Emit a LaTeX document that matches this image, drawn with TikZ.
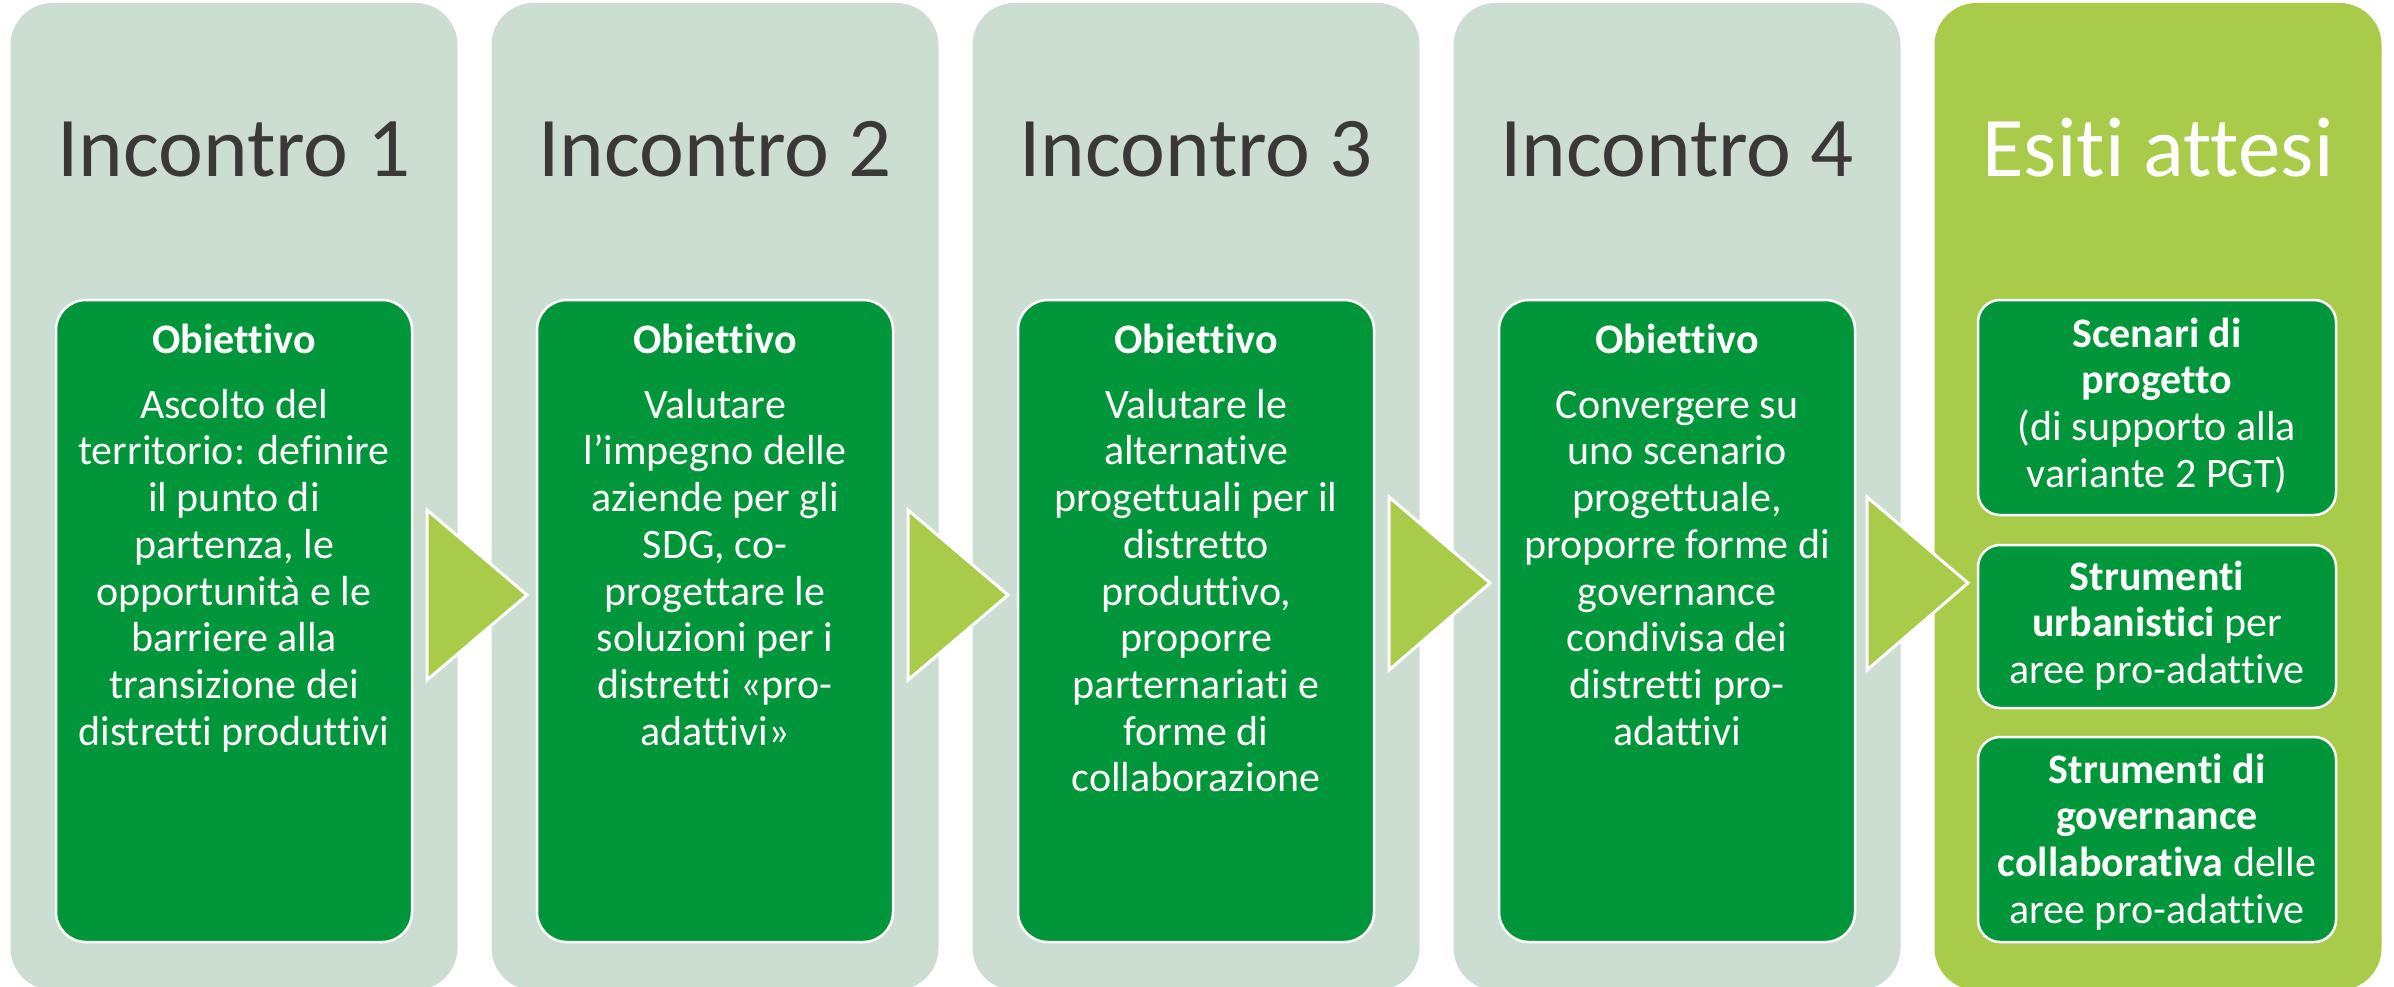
\documentclass[tikz,border=0pt]{standalone}
\usepackage{fontspec}
\setmainfont{Carlito}[Ligatures=NoCommon]
\definecolor{colbg}{RGB}{204,222,209}
\definecolor{boxgreen}{RGB}{0,150,57}
\definecolor{limegreen}{RGB}{168,203,74}
\definecolor{titlegray}{RGB}{59,56,56}
\begin{document}
\begin{tikzpicture}[x=1pt,y=-1pt,
  colbox/.style={rectangle, fill=colbg, rounded corners=42pt, minimum width=447pt, minimum height=987pt, inner sep=0pt},
  limebox/.style={colbox, fill=limegreen},
  goalbox/.style={rectangle, fill=boxgreen, draw=white, line width=2.5pt, rounded corners=30pt, minimum width=356pt, minimum height=642pt, inner sep=0pt},
  outbox/.style={rectangle, fill=boxgreen, draw=white, line width=2.5pt, rounded corners=22pt, minimum width=358pt, inner sep=0pt},
  titletext/.style={anchor=base, inner sep=0pt, font=\fontsize{85}{100}\selectfont, text=titlegray},
  bodytext/.style={anchor=north, inner sep=0pt, align=center, text=white, font=\fontsize{42}{46.7}\selectfont},
  arrowtri/.style={fill=limegreen, draw=white, line width=3pt, line join=miter}
]
\useasboundingbox (0,0) rectangle (2394,987);
\clip (0,0) rectangle (2394,987);

% columns
\node[colbox] (c1) at (234,496.5) {};
\node[colbox] (c2) at (715,496.5) {};
\node[colbox] (c3) at (1196,496.5) {};
\node[colbox] (c4) at (1677,496.5) {};
\node[limebox] (c5) at (2158,496.5) {};

% titles
\node[titletext] (t1) at (234,177) {Incontro 1};
\node[titletext] (t2) at (715,177) {Incontro 2};
\node[titletext] (t3) at (1196,177) {Incontro 3};
\node[titletext] (t4) at (1677,177) {Incontro 4};
\node[titletext, text=white] (t5) at (2158,177) {Esiti attesi};

% goal boxes
\node[goalbox] (g1) at (234,621) {};
\node[goalbox] (g2) at (715,621) {};
\node[goalbox] (g3) at (1196,621) {};
\node[goalbox] (g4) at (1677,621) {};

\node[bodytext] (b1) at (234,313) {\rule{0pt}{40pt}\textbf{Obiettivo}\\[18.3pt]
Ascolto del\\territorio: definire\\il punto di\\partenza, le\\opportunità e le\\barriere alla\\transizione dei\\distretti produttivi};
\node[bodytext] (b2) at (715,313) {\rule{0pt}{40pt}\textbf{Obiettivo}\\[18.3pt]
Valutare\\l’impegno delle\\aziende per gli\\SDG, co-\\progettare le\\soluzioni per i\\distretti «pro-\\adattivi»};
\node[bodytext] (b3) at (1196,313) {\rule{0pt}{40pt}\textbf{Obiettivo}\\[18.3pt]
Valutare le\\alternative\\progettuali per il\\distretto\\produttivo,\\proporre\\parternariati e\\forme di\\collaborazione};
\node[bodytext] (b4) at (1677,313) {\rule{0pt}{40pt}\textbf{Obiettivo}\\[18.3pt]
Convergere su\\uno scenario\\progettuale,\\proporre forme di\\governance\\condivisa dei\\distretti pro-\\adattivi};

% outcome boxes
\node[outbox, minimum height=215pt] (o1) at (2157,407.5) {};
\node[outbox, minimum height=163pt] (o2) at (2157,626.5) {};
\node[outbox, minimum height=205pt] (o3) at (2157,839.5) {};

\node[bodytext] (ot1) at (2157,307) {\rule{0pt}{40pt}\textbf{Scenari di}\\\textbf{progetto}\\(di supporto alla\\variante 2 PGT)};
\node[bodytext] (ot2) at (2157,550) {\rule{0pt}{40pt}\textbf{Strumenti}\\\textbf{urbanistici} per\\aree pro-adattive};
\node[bodytext] (ot3) at (2157,743) {\rule{0pt}{40pt}\textbf{Strumenti di}\\\textbf{governance}\\\textbf{collaborativa} delle\\aree pro-adattive};

% arrows
\draw[arrowtri] (427,510) -- (527,595) -- (427,680) -- cycle;
\draw[arrowtri] (908,510) -- (1008,595) -- (908,680) -- cycle;
\draw[arrowtri] (1389,497) -- (1490,583) -- (1389,670) -- cycle;
\draw[arrowtri] (1867,497) -- (1968,583) -- (1867,670) -- cycle;
\end{tikzpicture}
\end{document}
